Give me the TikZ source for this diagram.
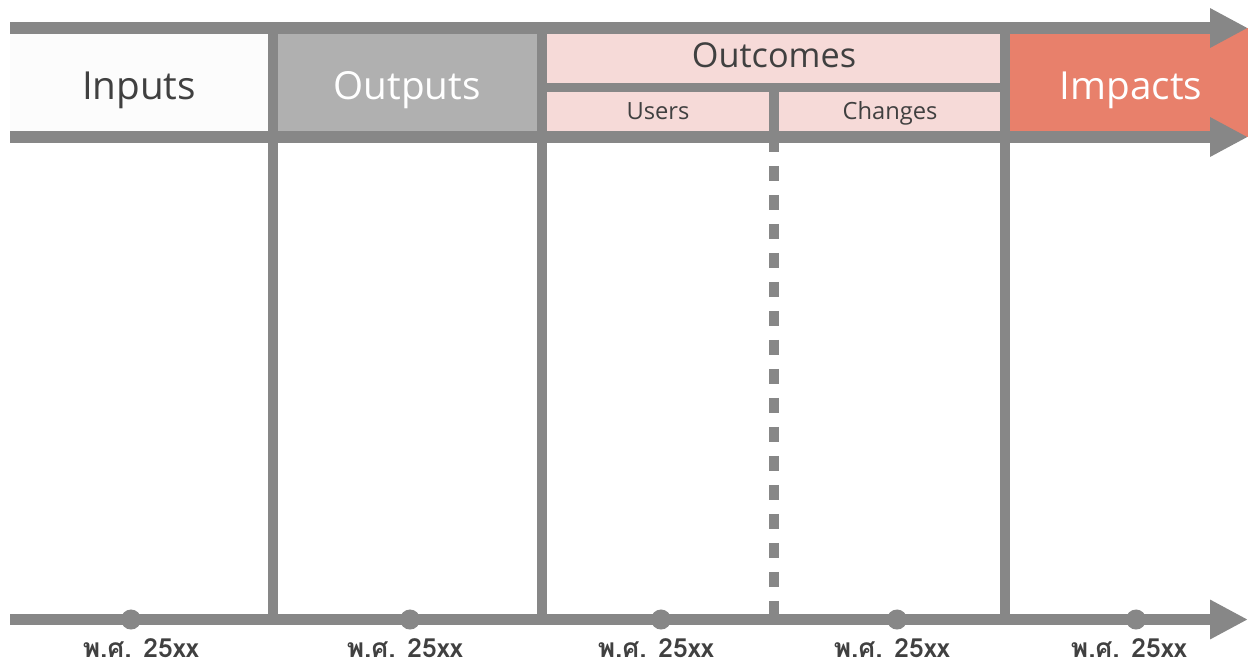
\documentclass[tikz,border=0pt]{standalone}
\usepackage{fontspec}
\setmainfont{Open Sans}
\newfontfamily\thaifont[Script=Thai]{Loma}
\usetikzlibrary{arrows.meta}

\definecolor{axisgrey}{HTML}{878787}
\definecolor{ink}{HTML}{404040}
\definecolor{inputsfill}{HTML}{FCFCFC}
\definecolor{outputsfill}{HTML}{B0B0B0}
\definecolor{outcomesfill}{HTML}{F6DAD8}
\definecolor{impactsfill}{HTML}{E8806B}

\tikzset{
  bar/.style={draw=axisgrey, line width=6.8pt},
  axis/.style={bar, -{Triangle[length=21.6pt, width=21pt]}},
  divider/.style={draw=axisgrey, line width=5.7pt},
  dashdiv/.style={divider, dash pattern=on 8.5pt off 8pt},
  head/.style={anchor=base, font=\fontsize{22}{26}\selectfont},
  sub/.style={anchor=base, text=ink, font=\fontsize{13.5}{16}\selectfont},
  year/.style={anchor=base, inner sep=0pt, text=ink, font=\thaifont\bfseries\fontsize{15}{17}\selectfont},
  dot/.style={circle, fill=axisgrey, inner sep=0pt, minimum size=11.4pt}
}

\begin{document}
\begin{tikzpicture}[x=0.02cm, y=-0.02cm]
\useasboundingbox (0,0) rectangle (1248,664);

% header boxes
\fill[inputsfill] (10,28) rectangle (273,137);
\fill[outputsfill] (273,28) rectangle (542,137);
\fill[outcomesfill] (542,28) rectangle (1005,137);
\fill[impactsfill] (1005,28) rectangle (1248,137);

\node[head, text=ink] (inputs) at (139,99) {Inputs};
\node[head, text=white] (outputs) at (407,99) {Outputs};
\node[head, text=ink, font=\fontsize{19.5}{23}\selectfont] (outcomes) at (774,67) {Outcomes};
\node[sub] (users) at (658,119) {Users};
\node[sub] (changes) at (890,119) {Changes};
\node[head, text=white] (impacts) at (1131,99) {Impacts};

% axis ends
\coordinate (topL) at (10,28);
\coordinate (topR) at (1248,28);
\coordinate (midL) at (10,137);
\coordinate (midR) at (1248,137);
\coordinate (botL) at (10,619.5);
\coordinate (botR) at (1248,619.5);

% column dividers
\coordinate (c1t) at (273,28);   \coordinate (c1b) at (273,619.5);
\coordinate (c2t) at (542,28);   \coordinate (c2b) at (542,619.5);
\coordinate (c4t) at (1005,28);  \coordinate (c4b) at (1005,619.5);
\coordinate (c3t) at (773.5,87.5); \coordinate (c3m) at (773.5,137);
\coordinate (c3b) at (773.5,619.5);
\coordinate (subL) at (542,87.5); \coordinate (subR) at (1005,87.5);

\path[divider] (c1t) -- (c1b);
\path[divider] (c2t) -- (c2b);
\path[divider] (c4t) -- (c4b);
\path[divider, line width=5.1pt] (subL) -- (subR);
\path[divider] (c3t) -- (c3m);
\path[dashdiv] (c3m) -- (c3b);

\path[axis] (topL) -- (topR);
\path[axis] (midL) -- (midR);
\path[axis] (botL) -- (botR);

% time points
\node[dot] (d1) at (131,619.5) {};
\node[dot] (d2) at (410,619.5) {};
\node[dot] (d3) at (661,619.5) {};
\node[dot] (d4) at (897,619.5) {};
\node[dot] (d5) at (1136,619.5) {};

\node[year] (y1) at (141,657) {พ.ศ. 25xx};
\node[year] (y2) at (405,657) {พ.ศ. 25xx};
\node[year] (y3) at (656,657) {พ.ศ. 25xx};
\node[year] (y4) at (892,657) {พ.ศ. 25xx};
\node[year] (y5) at (1129,657) {พ.ศ. 25xx};
\end{tikzpicture}
\end{document}
